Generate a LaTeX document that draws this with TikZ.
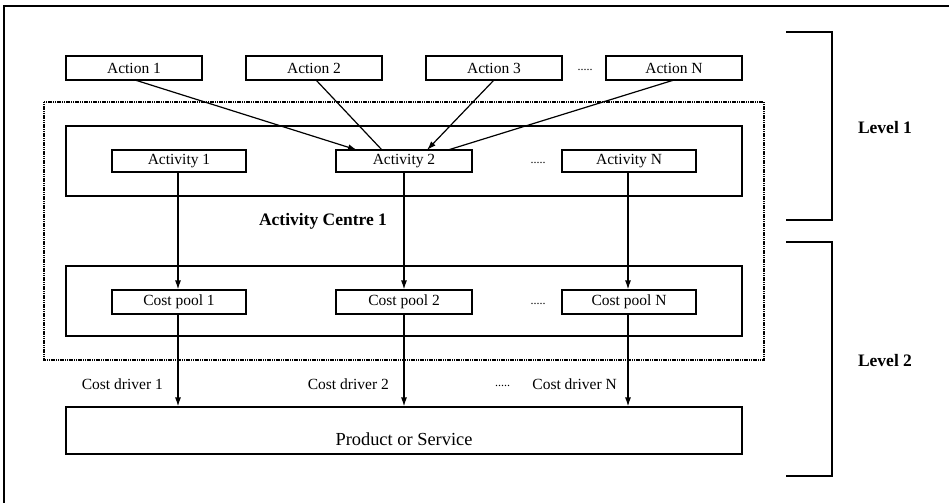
\documentclass[tikz,border=0pt]{standalone}
\usepackage{fontspec}
\setmainfont{Liberation Serif}
\usetikzlibrary{arrows.meta}
\begin{document}
\begin{tikzpicture}[x=1pt,y=-1pt,
  every node/.style={font=\fontsize{15.5}{18}\selectfont},
  box/.style={draw,line width=1.2pt,inner sep=0pt,minimum height=24pt,minimum width=136pt},
  panel/.style={draw,line width=1.2pt,inner sep=0pt,minimum width=676pt},
  centrebox/.style={draw,line width=1.8pt,dash pattern=on 1.2pt off 0.6pt},
  heading/.style={font=\fontsize{17.5}{20}\selectfont\bfseries},
  dots/.style={inner sep=0pt,font=\fontsize{12}{14}\selectfont},
  link/.style={line width=1.2pt},
  flow/.style={line width=1.2pt,-{Latex[length=9pt,width=6pt]}},
  bracket/.style={line width=1.4pt}]
\useasboundingbox (0,0) rectangle (949,503);

% outer frame (top and left edges)
\draw[line width=1.4pt] (949,6) -- (4,6) -- (4,503);

% activity centre
\draw[centrebox] (44,102) rectangle (764,360);
\node[heading] (centre) at (323,221) {Activity Centre 1};

% panels
\node[panel,minimum height=70pt] (actpanel) at (404,161) {};
\node[panel,minimum height=70pt] (poolpanel) at (404,301) {};
\node[panel,minimum height=47pt] (prod) at (404,430.5) {};
\node[font=\fontsize{18.4}{21}\selectfont] (prodtext) at (404,439) {Product or Service};

% actions
\node[box] (a1) at (134,68) {Action 1};
\node[box] (a2) at (314,68) {Action 2};
\node[box] (a3) at (494,68) {Action 3};
\node[box] (aN) at (674,68) {Action N};
\node[dots] (adots) at (585,70) {.....};

% activities
\node[box,minimum height=22pt,minimum width=134pt] (v1) at (179,161) {Activity 1};
\node[box,minimum height=22pt,minimum width=136pt] (v2) at (404,161) {Activity 2};
\node[box,minimum height=22pt,minimum width=134pt] (vN) at (629,161) {Activity N};
\node[dots] (vdots) at (538,163) {.....};

% cost pools
\node[box,minimum height=24pt,minimum width=134pt] (p1) at (179,302) {Cost pool 1};
\node[box,minimum height=24pt,minimum width=136pt] (p2) at (404,302) {Cost pool 2};
\node[box,minimum height=24pt,minimum width=134pt] (pN) at (629,302) {Cost pool N};
\node[dots] (pdots) at (538,304) {.....};

% actions feeding activity 2
\coordinate (a1s) at (135,80);
\coordinate (a2s) at (316,80);
\coordinate (a3s) at (494,80);
\coordinate (aNs) at (674,80);
\coordinate (v2a) at (357,150);
\coordinate (v2b) at (382,150);
\coordinate (v2c) at (427,150);
\coordinate (v2d) at (448,150);
\draw[flow] (a1s) -- (v2a);
\draw[link] (a2s) -- (v2b);
\draw[flow] (a3s) -- (v2c);
\draw[link] (aNs) -- (v2d);

% activities to cost pools to product
\foreach \i/\x in {1/178,2/404,N/628}{
  \draw[flow] (v\i.south -| \x,0) -- (p\i.north -| \x,0);
  \draw[flow] (p\i.south -| \x,0) -- (prod.north -| \x,0);
}

% cost drivers
\node[inner sep=0pt,anchor=east] (d1) at (163,384) {Cost driver 1};
\node[inner sep=0pt,anchor=east] (d2) at (389,384) {Cost driver 2};
\node[inner sep=0pt,anchor=east] (dN) at (617,384) {Cost driver N};
\node[dots,anchor=west] (ddots) at (495,386) {.....};

% levels
\draw[bracket] (786,32) -- (832,32) -- (832,220) -- (786,220);
\draw[bracket] (786,242) -- (832,242) -- (832,476) -- (786,476);
\node[heading] (l1) at (885,128) {Level 1};
\node[heading] (l2) at (885,361) {Level 2};
\end{tikzpicture}
\end{document}
